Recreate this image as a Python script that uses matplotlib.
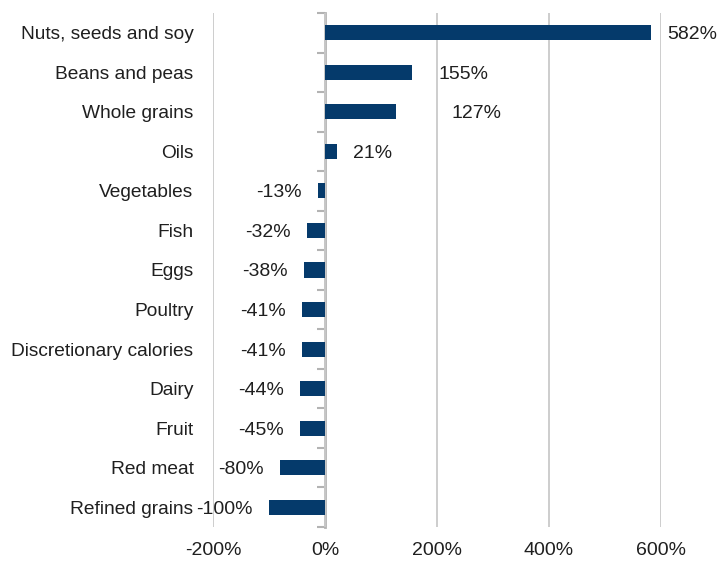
import matplotlib
matplotlib.use("Agg")
import matplotlib.pyplot as plt
import numpy as np

categories = ["Nuts, seeds and soy", "Beans and peas", "Whole grains", "Oils",
              "Vegetables", "Fish", "Eggs", "Poultry", "Discretionary calories",
              "Dairy", "Fruit", "Red meat", "Refined grains"]
values = [582, 155, 127, 21, -13, -32, -38, -41, -41, -44, -45, -80, -100]
xticks = [-200, 0, 200, 400, 600]
xtick_labels = ["-200%", "0%", "200%", "400%", "600%"]

# extra label shifts (pixels) as in the reference
label_nudge_px = {"Beans and peas": 11, "Whole grains": 39}

plt.rcParams['font.family'] = ['Liberation Sans', 'DejaVu Sans']
text_color = '#1f1f1f'
bar_color = '#053a6b'
grid_color = '#c9c9c9'
axis_color = '#b3b3b3'

W, H = 719, 563
fig = plt.figure(figsize=(W / 100, H / 100), dpi=100)
left, right, top, bottom = 213, 661, 13, 527
ax = fig.add_axes([left / W, 1 - bottom / H, (right - left) / W, (bottom - top) / H])

y = np.arange(len(categories))
ax.barh(y, values, height=0.38, color=bar_color, zorder=2)

ax.set_xlim(-200, 600)
ax.set_ylim(len(categories) - 0.5, -0.5)
ax.set_xticks(xticks)
ax.set_xticklabels(xtick_labels)
ax.set_yticks(y)
ax.set_yticklabels(categories)
ax.tick_params(axis='x', length=0, pad=11, labelsize=14, labelcolor=text_color)
ax.tick_params(axis='y', length=0, pad=14, labelsize=13.8, labelcolor=text_color)
for s in ax.spines.values():
    s.set_visible(False)
ax.xaxis.grid(True, color=grid_color, lw=1.3, zorder=0)
ax.set_axisbelow(True)

# category axis at x = 0 with separator ticks
zero_pos = (0 - (-200)) / (600 - (-200))
sec = ax.secondary_yaxis(zero_pos)
sec.set_yticks(np.arange(-0.5, len(categories), 1.0))
sec.tick_params(axis='y', length=6, width=1.5, color=axis_color,
                labelleft=False, labelright=False, left=True, right=False)
for name, sp in sec.spines.items():
    if name == 'left':
        sp.set_color(axis_color)
        sp.set_linewidth(2)
    else:
        sp.set_visible(False)

px = 0.72
for yi, (cat, v) in enumerate(zip(categories, values)):
    off = (16 + label_nudge_px.get(cat, 0)) * px
    if v >= 0:
        ax.annotate(f"{v}%", (v, yi), xytext=(off, 0), textcoords='offset points',
                    ha='left', va='center_baseline', fontsize=14, color=text_color,
                    annotation_clip=False)
    else:
        ax.annotate(f"{v}%", (v, yi), xytext=(-off, 0), textcoords='offset points',
                    ha='right', va='center_baseline', fontsize=14, color=text_color,
                    annotation_clip=False)

fig.savefig("out.png", dpi=100)
